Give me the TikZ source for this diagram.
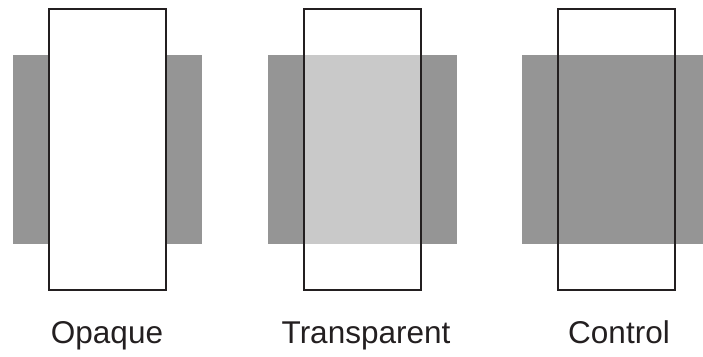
\documentclass[tikz,border=0pt]{standalone}
\usepackage{fontspec}
\setmainfont{Liberation Sans}
\definecolor{darkgray}{HTML}{959595}
\definecolor{lightgray}{HTML}{C9C9C9}
\definecolor{edge}{HTML}{231F20}
\begin{document}
\begin{tikzpicture}[x=1pt,y=-1pt,
  back/.style={fill=darkgray,draw=none},
  frontbox/.style={draw=edge,line width=2pt},
  lbl/.style={font=\fontsize{31.5}{36}\selectfont,anchor=base,text=edge,inner sep=0pt}]
\useasboundingbox (0,0) rectangle (703,356);
\clip (0,0) rectangle (703,356);
% Opaque
\path[back] (13,55) rectangle (202,243.5);
\path[frontbox,fill=white] (49,9) rectangle (166,290);
\node[lbl] (l1) at (107,343) {Opaque};
% Transparent
\path[back] (268,55) rectangle (457,243.5);
\path[fill=lightgray] (304,55) rectangle (421,243.5);
\path[frontbox] (304,9) rectangle (421,290);
\node[lbl] (l2) at (366,343) {Transparent};
% Control
\path[back] (522,55) rectangle (711,243.5);
\path[frontbox] (558,9) rectangle (675,290);
\node[lbl] (l3) at (619,343) {Control};
\end{tikzpicture}
\end{document}
